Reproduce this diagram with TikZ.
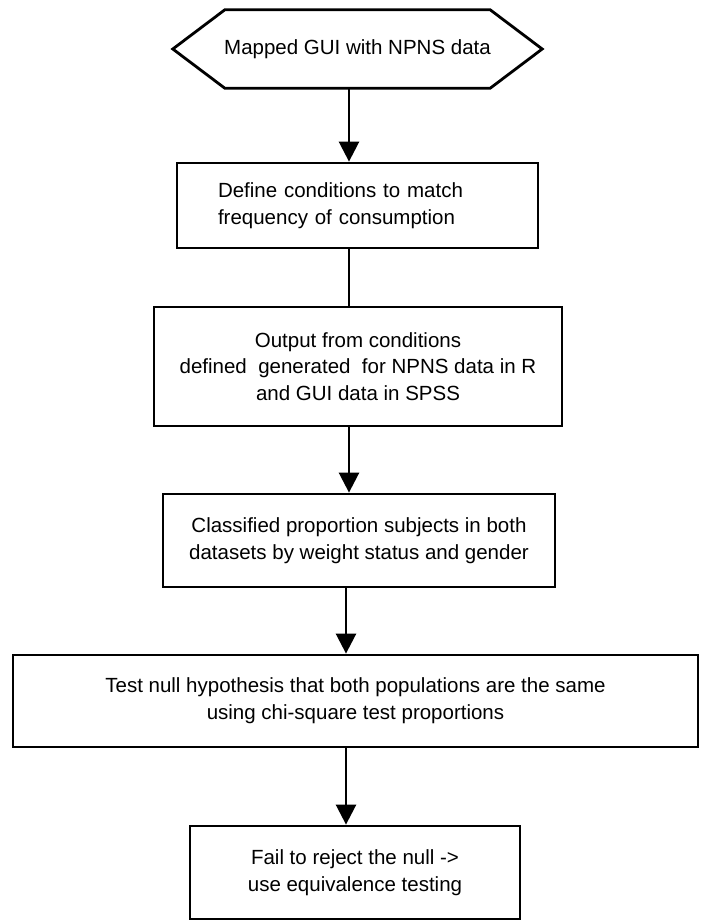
\documentclass[tikz,border=0pt]{standalone}
\usepackage{fontspec}
\setmainfont{Liberation Sans}
\usetikzlibrary{arrows.meta,calc}
\begin{document}
\begin{tikzpicture}[x=1pt,y=-1pt,
  txt/.style={font=\fontsize{20.5}{26.7}\selectfont},
  box/.style={txt, draw, line width=2.8pt, rectangle, align=center, inner sep=0pt},
  flow/.style={line width=2.6pt, -{Triangle[length=20pt,width=20pt]}},
  plainline/.style={line width=2.6pt}]
\useasboundingbox (0,0) rectangle (704,922);
\fill[white] (0,0) rectangle (704,922);

% start hexagon
\node[txt, minimum width=369pt, minimum height=78pt, inner sep=0pt] (hex) at (357.5,49)
  {\raisebox{3pt}{Mapped GUI with NPNS data}};
\draw[line width=2.8pt, line join=miter]
  (hex.west) -- ($(hex.north west)+(52pt,0pt)$) -- ($(hex.north east)+(-52pt,0pt)$)
  -- (hex.east) -- ($(hex.south east)+(-52pt,0pt)$) -- ($(hex.south west)+(52pt,0pt)$) -- cycle;

\node[box, minimum width=361pt, minimum height=85pt, inner xsep=41pt, text width=279pt, align=left] (b1) at (357.5,205.5)
  {Define conditions to match\\frequency of consumption};

\node[box, minimum width=408pt, minimum height=119pt] (b2) at (358,366.5)
  {Output from conditions\\defined\ \ generated\ \ for NPNS data in R\\and GUI data in SPSS};

\node[box, minimum width=392pt, minimum height=93pt] (b3) at (359,540.5)
  {Classified proportion subjects in both\\datasets by weight status and gender};

\node[box, minimum width=685pt, minimum height=92pt] (b4) at (355.5,701)
  {Test null hypothesis that both populations are the same\\using chi-square test proportions};

\node[box, minimum width=330pt, minimum height=93pt] (b5) at (355,872.5)
  {Fail to reject the null ->\\use equivalence testing};

\coordinate (spine) at (349,0);
\coordinate (spineb) at (346,0);

\draw[flow] (hex.south -| spine) -- (b1.north -| spine);
\draw[plainline] (b1.south -| spine) -- (b2.north -| spine);
\draw[flow] (b2.south -| spine) -- (b3.north -| spine);
\draw[flow] (b3.south -| spineb) -- (b4.north -| spineb);
\draw[flow] (b4.south -| spineb) -- (b5.north -| spineb);
\end{tikzpicture}
\end{document}
